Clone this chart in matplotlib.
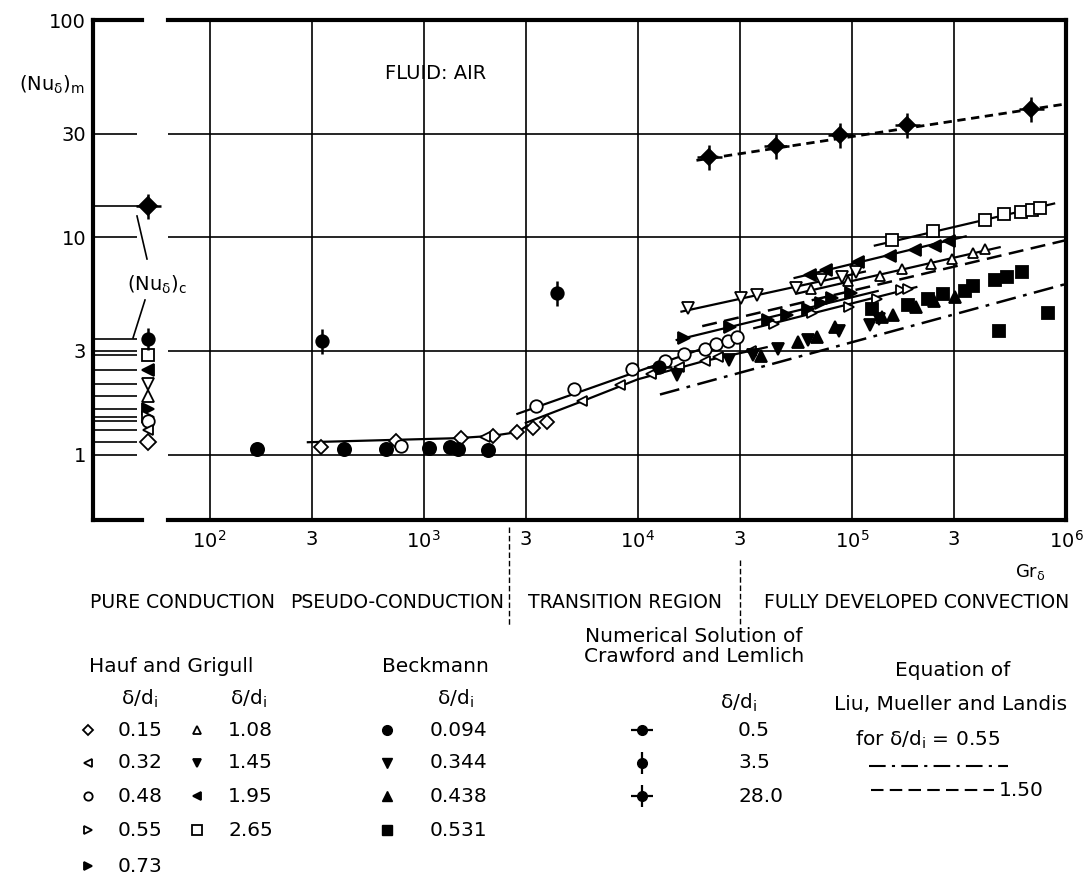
import numpy as np
import matplotlib
matplotlib.use('Agg')
from matplotlib import pyplot as plt
from matplotlib import transforms
from matplotlib.ticker import NullLocator

plt.rcParams['font.family'] = ['DejaVu Sans']
plt.rcParams['mathtext.default'] = 'regular'

W, H = 1086, 882

# axis ticks
xtick_vals = [1e2, 3e2, 1e3, 3e3, 1e4, 3e4, 1e5, 3e5, 1e6]
xtick_labels = ['$10^2$', '3', '$10^3$', '3', '$10^4$', '3', '$10^5$', '3', '$10^6$']
ytick_vals = [1, 3, 10, 30, 100]
ytick_labels = ['1', '3', '10', '30', '100']
region_names = ['PURE CONDUCTION', 'PSEUDO-CONDUCTION', 'TRANSITION REGION',
                'FULLY DEVELOPED CONVECTION']
region_bounds = [2500, 3e4]

# Hauf and Grigull, delta/di
hg_015_gr = [330, 740, 1496, 2113, 2735, 3240, 3750]
hg_015_nu = [1.08, 1.16, 1.19, 1.22, 1.27, 1.33, 1.41]
hg_032_gr = [1933, 5470, 8300, 11500, 15500, 20500, 23800, 33700]
hg_032_nu = [1.21, 1.76, 2.10, 2.34, 2.53, 2.70, 2.82, 3.01]
hg_048_gr = [780, 3340, 5060, 9400, 13400, 16500, 20500, 23300, 26500, 29200]
hg_048_nu = [1.09, 1.67, 2.00, 2.47, 2.70, 2.91, 3.07, 3.24, 3.34, 3.46]
hg_055_gr = [43500, 65300, 96800, 131000, 169000, 182000]
hg_055_nu = [4.01, 4.46, 4.80, 5.21, 5.73, 5.79]
hg_073_gr = [16400, 27100, 40500, 50000, 62700, 72000, 81000, 99000]
hg_073_nu = [3.45, 3.85, 4.17, 4.40, 4.69, 5.01, 5.24, 5.55]
hg_108_gr = [64300, 96000, 136000, 172000, 234000, 292000, 369000, 419000]
hg_108_nu = [5.77, 6.30, 6.67, 7.16, 7.55, 7.96, 8.45, 8.84]
hg_145_gr = [17200, 30200, 36100, 54700, 71600, 90000, 105000]
hg_145_nu = [4.72, 5.25, 5.44, 5.87, 6.37, 6.60, 6.90]
hg_195_gr = [63800, 75500, 107000, 151000, 197000, 245000, 284000]
hg_195_nu = [6.73, 7.10, 7.73, 8.16, 8.76, 9.08, 9.60]
hg_265_gr = [154000, 238000, 418000, 516000, 619000, 693000, 755000]
hg_265_nu = [9.7, 10.7, 12.0, 12.8, 13.1, 13.3, 13.7]

# Beckmann, delta/di
bk_0094_gr = [166, 423, 668, 1054, 1330, 1443, 2000]
bk_0094_nu = [1.06, 1.06, 1.06, 1.07, 1.08, 1.06, 1.05]
bk_0344_gr = [15300, 26700, 34400, 45200, 62500, 87000, 122000, 134000]
bk_0344_nu = [2.32, 2.72, 2.87, 3.05, 3.38, 3.70, 3.94, 4.20]
bk_0438_gr = [37500, 56300, 68500, 83600, 138000, 156000, 199000, 243000, 304000]
bk_0438_nu = [2.83, 3.29, 3.47, 3.88, 4.30, 4.37, 4.77, 5.08, 5.31]
bk_0531_gr = [124000, 182000, 226000, 266000, 337000, 369000, 467000, 530000,
              620000, 484000, 828000]
bk_0531_nu = [4.69, 4.86, 5.21, 5.50, 5.69, 5.94, 6.37, 6.60, 6.91, 3.71, 4.48]

# numerical solution of Crawford and Lemlich
cl_05_gr = [12500]
cl_05_nu = [2.52]
cl_35_gr = [335, 4175]
cl_35_nu = [3.33, 5.56]
cl_28_gr = [21500, 44100, 88300, 180000, 686000]
cl_28_nu = [23.4, 26.2, 29.5, 33.0, 39.1]

# faired curves through the data
fit_015_gr = [288, 1430, 2100, 2750, 3050]
fit_015_nu = [1.14, 1.19, 1.22, 1.27, 1.36]
fit_032_gr = [3000, 5500, 10000, 20000, 40000]
fit_032_nu = [1.40, 1.76, 2.22, 2.68, 3.12]
fit_048_gr = [2740, 30600]
fit_048_nu = [1.54, 3.56]
fit_055_gr = [35000, 200000]
fit_055_nu = [3.82, 5.90]
fit_073_gr = [15200, 132000]
fit_073_nu = [3.37, 5.66]
fit_108_gr = [55000, 490000]
fit_108_nu = [5.50, 9.00]
fit_145_gr = [16000, 115000]
fit_145_nu = [4.55, 6.95]
fit_195_gr = [54000, 340000]
fit_195_nu = [6.50, 10.1]
fit_265_gr = [128000, 880000]
fit_265_nu = [9.16, 14.3]
fit_28_gr = [18800, 1e6]
fit_28_nu = [22.6, 41.1]

# Liu, Mueller and Landis
lml_055_gr = [12700, 1e6]
lml_055_nu = [1.89, 6.10]
lml_150_gr = [20000, 1e6]
lml_150_nu = [3.90, 9.70]

# conduction values (Nu_delta)_c
cond_nu = [14.0, 3.40, 2.87, 2.45, 2.12, 1.86, 1.62, 1.49, 1.42, 1.30, 1.14]
cond_mk = ['D', 'o', 's', '<', 'v', '^', '>', '>', 'o', '<', 'D']
cond_fill = ['k', 'k', 'w', 'k', 'w', 'w', 'k', 'w', 'w', 'w', 'w']
cond_ms = [9, 9, 8, 8, 8, 8, 8, 8, 9, 7, 8]

fig = plt.figure(figsize=(W / 100, H / 100), dpi=100)

ax = fig.add_axes([168 / W, 1 - 520 / H, 898 / W, 500 / H])
ax.set_xscale('log')
ax.set_yscale('log')
ax.set_xlim(64, 1e6)
ax.set_ylim(0.5, 100)
ax.set_xticks(xtick_vals)
ax.set_xticklabels(xtick_labels, fontsize=14)
ax.set_yticks([])
ax.xaxis.set_minor_locator(NullLocator())
ax.yaxis.set_minor_locator(NullLocator())
ax.tick_params(axis='x', length=0, pad=7)
for v in xtick_vals[:-1]:
	ax.axvline(v, color='k', lw=1.2, zorder=1)
for v in ytick_vals[:-1]:
	ax.axhline(v, color='k', lw=1.2, zorder=1)
ax.spines['left'].set_visible(False)
for s in ['top', 'bottom', 'right']:
	ax.spines[s].set_linewidth(3)

def pts(gr, nu, mk, ms, fill, mew=1.3):
	ax.plot(gr, nu, ls='none', marker=mk, ms=ms, mfc=fill, mec='k', mew=mew, zorder=4)

def fit(gr, nu, ls='-', lw=1.6):
	ax.plot(gr, nu, color='k', ls=ls, lw=lw, zorder=2)

fit(fit_015_gr, fit_015_nu)
fit(fit_032_gr, fit_032_nu)
fit(fit_048_gr, fit_048_nu)
fit(fit_055_gr, fit_055_nu)
fit(fit_073_gr, fit_073_nu)
fit(fit_108_gr, fit_108_nu)
fit(fit_145_gr, fit_145_nu)
fit(fit_195_gr, fit_195_nu)
fit(fit_265_gr, fit_265_nu)
fit(fit_28_gr, fit_28_nu, ls=(0, (3, 2)), lw=2)
fit(lml_150_gr, lml_150_nu, ls=(0, (6, 3)), lw=1.8)
fit(lml_055_gr, lml_055_nu, ls=(0, (8, 3, 1.5, 3)), lw=1.8)

pts(hg_015_gr, hg_015_nu, 'D', 7.5, 'w')
pts(hg_032_gr, hg_032_nu, '<', 7, 'w')
pts(hg_048_gr, hg_048_nu, 'o', 9, 'w')
pts(hg_055_gr, hg_055_nu, '>', 7.5, 'w')
pts(hg_073_gr, hg_073_nu, '>', 8, 'k')
pts(hg_108_gr, hg_108_nu, '^', 7.5, 'w')
pts(hg_145_gr, hg_145_nu, 'v', 8, 'w')
pts(hg_195_gr, hg_195_nu, '<', 8, 'k')
pts(hg_265_gr, hg_265_nu, 's', 8, 'w')
pts(bk_0094_gr, bk_0094_nu, 'o', 9.5, 'k')
pts(bk_0344_gr, bk_0344_nu, 'v', 8.5, 'k')
pts(bk_0438_gr, bk_0438_nu, '^', 8.5, 'k')
pts(bk_0531_gr, bk_0531_nu, 's', 8.5, 'k')
pts(cl_05_gr, cl_05_nu, 'o', 9, 'k')
pts(cl_05_gr, cl_05_nu, '_', 18, 'k', mew=1.8)
pts(cl_35_gr, cl_35_nu, 'o', 9, 'k')
pts(cl_35_gr, cl_35_nu, '|', 18, 'k', mew=1.8)
pts(cl_28_gr, cl_28_nu, 'D', 8.5, 'k')
pts(cl_28_gr, cl_28_nu, '+', 18, 'k', mew=1.8)

ax.text(660, 57, 'FLUID: AIR', fontsize=14, ha='left', va='center')

trans = transforms.blended_transform_factory(ax.transData, ax.transAxes)
ax.plot([region_bounds[0]] * 2, [-0.014, -0.21], color='k', lw=1, ls=(0, (4, 2)),
        transform=trans, clip_on=False)
ax.plot([region_bounds[1]] * 2, [-0.08, -0.21], color='k', lw=1, ls=(0, (4, 2)),
        transform=trans, clip_on=False)

# left panel: conduction values
ax0 = fig.add_axes([93 / W, 1 - 520 / H, 70 / W, 500 / H])
ax0.set_yscale('log')
ax0.set_ylim(0.5, 100)
ax0.set_xlim(0, 1)
ax0.set_xticks([])
ax0.set_yticks(ytick_vals)
ax0.set_yticklabels(ytick_labels, fontsize=14)
ax0.yaxis.set_minor_locator(NullLocator())
ax0.tick_params(axis='y', length=0, pad=5)
for s in ['top', 'bottom', 'right']:
	ax0.spines[s].set_visible(False)
ax0.spines['left'].set_linewidth(3)
ax0.patch.set_alpha(0)
ax0.plot([0, 0.7], [100, 100], color='k', lw=3, clip_on=False)
ax0.plot([0, 0.7], [0.5, 0.5], color='k', lw=3, clip_on=False)
ax0.hlines(ytick_vals[:-1], 0.03, 0.63, color='k', lw=1.2)
ax0.hlines(cond_nu[1:], 0.03, 0.63, color='k', lw=1.2)
ax0.hlines(cond_nu[0], 0.03, 0.74, color='k', lw=1.2)
for v, mk, fl, ms in zip(cond_nu, cond_mk, cond_fill, cond_ms):
	ax0.plot([0.78], [v], marker=mk, ms=ms, mfc=fl, mec='k', mew=1.3, clip_on=False)
ax0.plot([0.78], [cond_nu[0]], marker='+', ms=18, mec='k', mew=1.8, clip_on=False)
ax0.plot([0.78], [cond_nu[1]], marker='|', ms=16, mec='k', mew=1.8, clip_on=False)

# overlay in pixel coordinates for the legend and captions, drawn on top
ov = fig.add_axes([0, 0, 1, 1], zorder=10)
ov.set_xlim(0, W)
ov.set_ylim(H, 0)
ov.axis('off')

ov.text(52, 85, '$(Nu_{\\delta})_m$', fontsize=14, ha='center', va='center')
ov.text(157, 285, '$(Nu_{\\delta})_c$', fontsize=14, ha='center', va='center')
ov.plot([137, 147], [216, 259], color='k', lw=1.2)
ov.plot([145, 133], [300, 338], color='k', lw=1.2)
ov.text(1030, 572, '$Gr_{\\delta}$', fontsize=13, ha='center', va='center')

region_x = [182, 397, 625, 917]
for name, x in zip(region_names, region_x):
	ov.text(x, 602, name, fontsize=13.5, ha='center', va='center')

fs = 14.5
rows = [730, 763, 796, 830, 866]

# Hauf and Grigull legend
ov.text(171, 666, 'Hauf and Grigull', fontsize=fs, ha='center', va='center')
ov.text(139, 699, '$\\delta/d_i$', fontsize=fs, ha='center', va='center')
ov.text(248, 699, '$\\delta/d_i$', fontsize=fs, ha='center', va='center')
hg_col1 = [('D', 'w', 5.5, '0.15'), ('<', 'w', 6, '0.32'), ('o', 'w', 6, '0.48'),
           ('>', 'w', 6, '0.55'), ('>', 'k', 6, '0.73')]
hg_col2 = [('^', 'w', 5.5, '1.08'), ('v', 'k', 6, '1.45'), ('<', 'k', 6, '1.95'),
           ('s', 'w', 6.5, '2.65')]
for (mk, fl, ms, lab), y in zip(hg_col1, rows):
	ov.plot([88], [y], marker=mk, ms=ms, mfc=fl, mec='k', mew=1.3)
	ov.text(118, y, lab, fontsize=fs, ha='left', va='center')
for (mk, fl, ms, lab), y in zip(hg_col2, rows):
	ov.plot([197], [y], marker=mk, ms=ms, mfc=fl, mec='k', mew=1.3)
	ov.text(228, y, lab, fontsize=fs, ha='left', va='center')

# Beckmann legend
ov.text(435, 666, 'Beckmann', fontsize=fs, ha='center', va='center')
ov.text(455, 699, '$\\delta/d_i$', fontsize=fs, ha='center', va='center')
bk_items = [('o', 7, '0.094'), ('v', 6.5, '0.344'), ('^', 6.5, '0.438'), ('s', 7, '0.531')]
for (mk, ms, lab), y in zip(bk_items, rows):
	ov.plot([387], [y], marker=mk, ms=ms, mfc='k', mec='k')
	ov.text(430, y, lab, fontsize=fs, ha='left', va='center')

# Crawford and Lemlich legend
ov.text(694, 636, 'Numerical Solution of', fontsize=fs, ha='center', va='center')
ov.text(694, 656, 'Crawford and Lemlich', fontsize=fs, ha='center', va='center')
ov.text(738, 703, '$\\delta/d_i$', fontsize=fs, ha='center', va='center')
cl_items = [('_', '0.5'), ('|', '3.5'), ('+', '28.0')]
for (mk, lab), y in zip(cl_items, rows[:3]):
	ov.plot([642], [y], marker='o', ms=7, mfc='k', mec='k')
	ov.plot([642], [y], marker=mk, ms=16, mec='k', mew=1.6)
	ov.text(738, y, lab, fontsize=fs, ha='left', va='center')

# Liu, Mueller and Landis legend
ov.text(953, 671, 'Equation of', fontsize=fs, ha='center', va='center')
ov.text(951, 705, 'Liu, Mueller and Landis', fontsize=fs, ha='center', va='center')
ov.text(928, 740, 'for $\\delta/d_i$ = 0.55', fontsize=fs, ha='center', va='center')
ov.plot([869, 1008], [766, 766], color='k', lw=1.5, ls=(0, (8, 3, 1.5, 3)))
ov.plot([871, 994], [790, 790], color='k', lw=1.5, ls=(0, (6, 3)))
ov.text(999, 790, '1.50', fontsize=fs, ha='left', va='center')

fig.savefig('out.png', dpi=100)
